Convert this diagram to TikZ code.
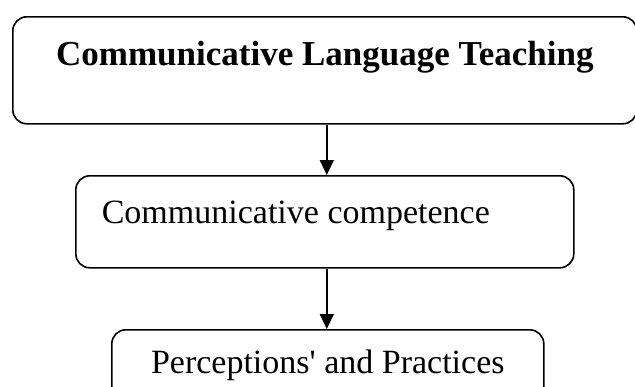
\documentclass[tikz,border=0pt]{standalone}
\usepackage{fontspec}
\setmainfont{Liberation Serif}
\usetikzlibrary{arrows.meta}
\begin{document}
\begin{tikzpicture}[x=1pt,y=-1pt,line width=1.6pt,
  box/.style={draw,rounded corners=14pt,inner ysep=0pt,anchor=north west},
  arrow/.style={-{Triangle[width=14pt,length=15pt]}}]
\useasboundingbox (0,0) rectangle (635,386);
\node[box,inner xsep=0pt,minimum width=624pt,text height=49pt,text depth=58pt,font=\fontsize{35}{40}\selectfont\bfseries] (clt) at (12,16) {Communicative Language Teaching};
\node[box,inner xsep=26pt,text width=446pt,align=flush left,text height=48pt,text depth=44pt,font=\fontsize{34}{38}\selectfont] (cc) at (75,175) {Communicative competence};
\node[box,inner xsep=0pt,minimum width=432pt,text height=44pt,text depth=48pt,font=\fontsize{34}{38}\selectfont] (pp) at (111,329) {Perceptions\textquotesingle{} and Practices};
\draw[arrow] ([xshift=2pt]clt.south) -- ([xshift=2pt]cc.north);
\draw[arrow] ([xshift=2pt]cc.south) -- ([xshift=2pt]cc.south |- pp.north);
\end{tikzpicture}
\end{document}
